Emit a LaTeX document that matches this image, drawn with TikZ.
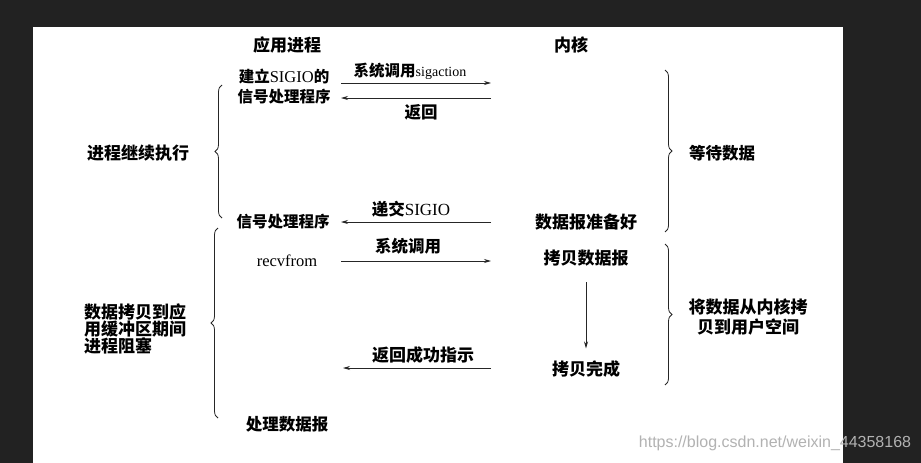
\documentclass[tikz,border=0pt]{standalone}
\usepackage{fontspec}
\setmainfont{Liberation Serif}
\newfontfamily\cjk{Noto Sans CJK SC}
\newfontfamily\wmfont{Liberation Sans}
\usetikzlibrary{arrows.meta,decorations.pathreplacing}
\begin{document}
\begin{tikzpicture}[x=1pt,y=-1pt,
  lbl/.style={font=\cjk\bfseries\fontsize{16.5}{20}\selectfont, inner sep=0pt},
  sml/.style={font=\cjk\bfseries\fontsize{15.5}{20}\selectfont, inner sep=0pt},
  hdr/.style={font=\cjk\bfseries\fontsize{17}{20}\selectfont, inner sep=0pt},
  msg/.style={draw=black!85, line width=0.7pt, -{Stealth[length=7pt,width=4pt]}},
  brc/.style={draw=black!85, line width=0.8pt, decorate, decoration={brace, amplitude=7pt}},
]
\fill[fill={rgb,255:red,34;green,34;blue,34}] (0,0) rectangle (921,463);
\fill[white] (33,27) rectangle (843,463);
\useasboundingbox (0,0) rectangle (921,463);

% headers
\node[hdr] (app) at (287,45) {应用进程};
\node[hdr] (kern) at (571,45) {内核};

% setup
\node[sml, align=center] (setup) at (284,87) {建立{\rmfamily\mdseries\fontsize{16.5}{20}\selectfont SIGIO}的\\信号处理程序};
\coordinate (s1) at (341,83);
\coordinate (k1) at (491,83);
\coordinate (k2) at (491,98);
\coordinate (s2) at (341,98);
\draw[msg] (s1) -- (k1);
\draw[msg] (k2) -- (s2);
\node[sml] (l1) at (410,71) {系统调用{\rmfamily\mdseries\fontsize{14}{20}\selectfont sigaction}};
\node[lbl] (l2) at (421,112) {返回};

% wait braces
\coordinate (b1a) at (222,218);
\coordinate (b1b) at (222,85);
\draw[brc] (b1a) -- (b1b);
\node[hdr] (cont) at (138,153) {进程继续执行};
\coordinate (b2a) at (665,70);
\coordinate (b2b) at (665,232);
\draw[brc] (b2a) -- (b2b);
\node[lbl] (wait) at (722,153) {等待数据};

% SIGIO delivery
\node[sml] (handler) at (283,222) {信号处理程序};
\node[hdr] (ready) at (586,222) {数据报准备好};
\coordinate (k3) at (491,222);
\coordinate (s3) at (341,222);
\draw[msg] (k3) -- (s3);
\node[lbl] (l3) at (411,209) {递交{\rmfamily\mdseries\fontsize{17}{20}\selectfont SIGIO}};

% recvfrom
\node[inner sep=0pt, font=\rmfamily\fontsize{16.5}{20}\selectfont] (recv) at (287,261) {recvfrom};
\coordinate (s4) at (341,261);
\coordinate (k4) at (491,261);
\draw[msg] (s4) -- (k4);
\node[lbl] (l4) at (408,246) {系统调用};
\node[hdr] (copy) at (586,258) {拷贝数据报};
\node[hdr] (done) at (586,369) {拷贝完成};
\draw[msg] (copy.south) -- (done.north)
  [shorten <=16pt, shorten >=12pt];
\coordinate (k5) at (491,368);
\coordinate (s5) at (343,368);
\draw[msg] (k5) -- (s5);
\node[hdr] (l5) at (423,355) {返回成功指示};
\node[lbl] (proc) at (287,424) {处理数据报};

% copy braces
\coordinate (b3a) at (218,418);
\coordinate (b3b) at (218,228);
\draw[brc] (b3a) -- (b3b);
\node[inner sep=0pt, align=left, anchor=west, font=\cjk\bfseries\fontsize{17}{16.5}\selectfont] (block) at (84,329) {数据拷贝到应\\用缓冲区期间\\进程阻塞};
\coordinate (b4a) at (665,244);
\coordinate (b4b) at (665,385);
\draw[brc] (b4a) -- (b4b);
\node[inner sep=0pt, align=center, font=\cjk\bfseries\fontsize{17}{20}\selectfont] (copy2) at (748,317) {将数据从内核拷\\贝到用户空间};

% watermark
\node[inner sep=0pt, text=black!30, font=\wmfont\fontsize{16}{18}\selectfont] (wm) at (775,443) {https://blog.csdn.net/weixin\_44358168};
\end{tikzpicture}
\end{document}
